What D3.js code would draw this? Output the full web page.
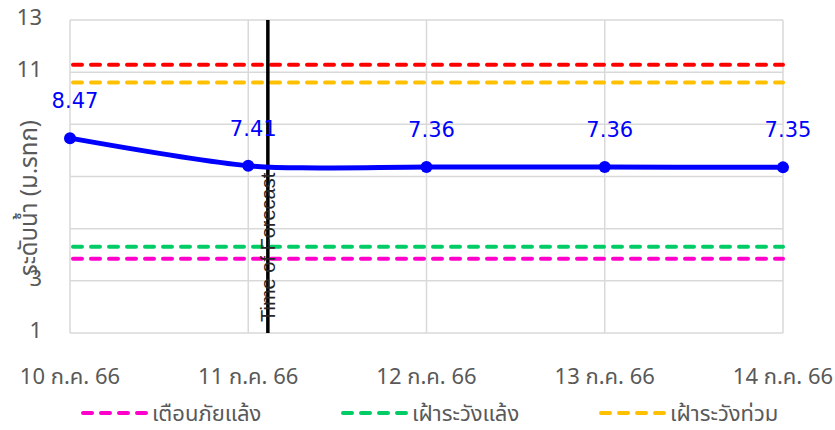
<!DOCTYPE html>
<html>
<head>
<meta charset="utf-8">
<script src="https://cdn.jsdelivr.net/npm/d3@7"></script>
<style>
  body { margin: 0; background: #fff; }
  svg { display: block; }
  .thai { font-family: "Liberation Sans Narrow", "Noto Sans Thai", "Noto Sans", sans-serif; fill: #595959; }
</style>
</head>
<body>
<svg width="835" height="430"></svg>
<script>
// data
const days = [10, 11, 12, 13, 14];
const dayLabels = ["10 ก.ค. 66", "11 ก.ค. 66", "12 ก.ค. 66", "13 ก.ค. 66", "14 ก.ค. 66"];
const levelDays = [10, 11, 11.4, 12, 13, 14];
const levelValues = [8.47, 7.41, 7.33, 7.36, 7.36, 7.35];
const markerValues = [8.47, 7.41, 7.36, 7.36, 7.35];
const yGrid = [1, 3, 5, 7, 9, 11, 13];
const yLabelTicks = [1, 3, 11, 13];
const forecastDay = 11.11;
const thresholdNames = ["เตือนภัยแล้ง", "เฝ้าระวังแล้ง", "เฝ้าระวังท่วม", "วิกฤต"];
const thresholdValues = [3.85, 4.31, 10.6, 11.28];
const thresholdColors = ["#ff00cc", "#00cc66", "#ffc000", "#ff0000"];

const svg = d3.select("svg");
const x = d3.scaleLinear().domain([10, 14]).range([70, 783]);
const y = d3.scaleLinear().domain([1, 13]).range([333, 20]);

// grid
svg.selectAll(".hg").data(yGrid).enter().append("line")
    .attr("x1", x(10)).attr("x2", x(14))
    .attr("y1", d => y(d)).attr("y2", d => y(d))
    .attr("stroke", "#d9d9d9").attr("stroke-width", 1.5);
svg.selectAll(".vg").data(days).enter().append("line")
    .attr("x1", d => x(d)).attr("x2", d => x(d))
    .attr("y1", y(13)).attr("y2", y(1))
    .attr("stroke", "#d9d9d9").attr("stroke-width", 1.5);

// y tick labels
svg.selectAll(".yl").data(yLabelTicks).enter().append("text")
    .attr("class", "thai")
    .attr("x", 42).attr("y", d => y(d) + 5)
    .attr("text-anchor", "end").attr("font-size", 22)
    .text(d => d);

// x labels
svg.selectAll(".xl").data(days).enter().append("text")
    .attr("class", "thai")
    .attr("x", d => x(d)).attr("y", 384)
    .attr("text-anchor", "middle").attr("font-size", 22)
    .text((d, i) => dayLabels[i]);

// y title
svg.append("text")
    .attr("class", "thai")
    .attr("transform", "translate(37,198) rotate(-90)")
    .attr("text-anchor", "middle").attr("font-size", 24)
    .text("ระดับน้ำ (ม.รทก)");

// threshold lines
svg.selectAll(".th").data(thresholdValues).enter().append("line")
    .attr("x1", x(10) + 3).attr("x2", x(14))
    .attr("y1", d => y(d)).attr("y2", d => y(d))
    .attr("stroke", (d, i) => thresholdColors[i])
    .attr("stroke-width", 4)
    .attr("stroke-linecap", "round")
    .attr("stroke-dasharray", "9 9");

// forecast line
svg.append("line")
    .attr("x1", x(forecastDay)).attr("x2", x(forecastDay))
    .attr("y1", y(13)).attr("y2", y(1))
    .attr("stroke", "#000").attr("stroke-width", 3.5);
svg.append("text")
    .attr("transform", `translate(${x(forecastDay) + 7},322) rotate(-90)`)
    .attr("font-family", "Liberation Sans, Arial, sans-serif")
    .attr("font-size", 20).attr("fill", "#262626")
    .text("Time of Forecast");

// water level
const line = d3.line()
    .x((d, i) => x(levelDays[i]))
    .y(d => y(d))
    .curve(d3.curveCatmullRom);
svg.append("path")
    .datum(levelValues)
    .attr("d", line)
    .attr("fill", "none")
    .attr("stroke", "#0000ff")
    .attr("stroke-width", 5);
svg.selectAll(".mk").data(markerValues).enter().append("circle")
    .attr("cx", (d, i) => x(days[i]))
    .attr("cy", d => y(d))
    .attr("r", 6)
    .attr("fill", "#0000ff");
svg.selectAll(".dl").data(markerValues).enter().append("text")
    .attr("x", (d, i) => x(days[i]) + 5)
    .attr("y", d => y(d) - 30)
    .attr("text-anchor", "middle")
    .attr("font-family", "DejaVu Sans, sans-serif")
    .attr("font-size", 21)
    .attr("fill", "#0000ff")
    .text(d => d.toFixed(2));

// legend (first three)
const legendX = [80, 340, 598];
const leg = svg.selectAll(".lg").data(legendX).enter().append("g")
    .attr("transform", d => `translate(${d},413)`);
leg.append("line")
    .attr("x1", 3).attr("x2", 66)
    .attr("stroke", (d, i) => thresholdColors[i])
    .attr("stroke-width", 4)
    .attr("stroke-linecap", "round")
    .attr("stroke-dasharray", "9 9");
leg.append("text")
    .attr("class", "thai")
    .attr("x", 72).attr("y", 8)
    .attr("font-size", 22)
    .text((d, i) => thresholdNames[i]);
</script>
</body>
</html>
